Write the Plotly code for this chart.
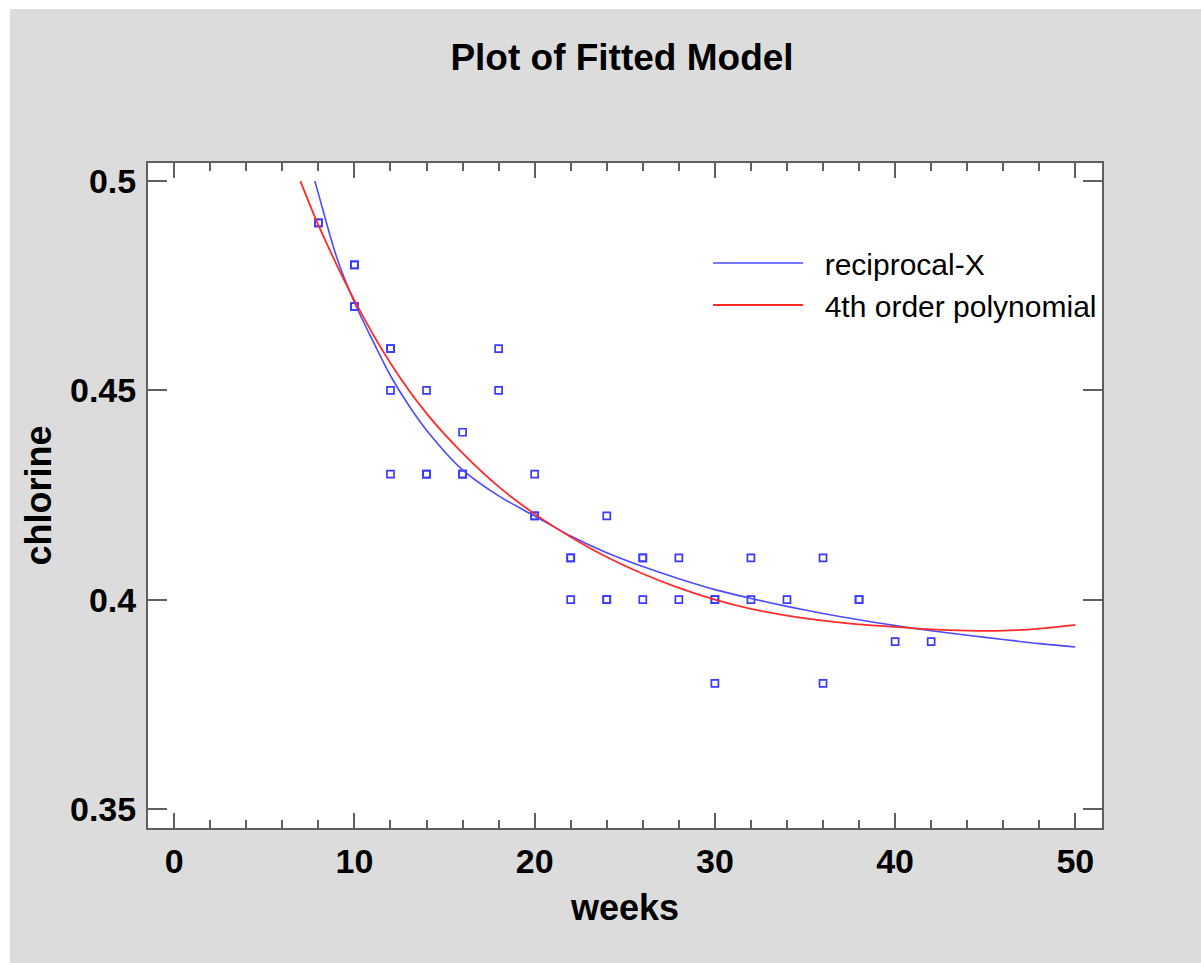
import plotly.graph_objects as go

# observed data: weeks vs chlorine
weeks = [8, 8, 10, 10, 10, 10, 12, 12, 12, 12, 14, 14, 14, 16, 16, 16, 18, 18,
         20, 20, 20, 22, 22, 22, 24, 24, 24, 26, 26, 26, 28, 28, 30, 30, 30,
         32, 32, 34, 36, 36, 38, 38, 40, 42]
chlorine = [0.49, 0.49, 0.48, 0.47, 0.48, 0.47, 0.46, 0.46, 0.45, 0.43, 0.45, 0.43, 0.43,
            0.44, 0.43, 0.43, 0.46, 0.45, 0.42, 0.42, 0.43, 0.41, 0.41, 0.40, 0.42, 0.40,
            0.40, 0.41, 0.40, 0.41, 0.41, 0.40, 0.40, 0.40, 0.38, 0.41, 0.40, 0.40, 0.41,
            0.38, 0.40, 0.40, 0.39, 0.39]

# reciprocal-X fitted curve
recip_x = [7.8, 8, 9, 10, 11, 12, 13, 14, 16, 18, 20, 22, 24, 26, 28, 30, 32, 34, 36,
           38, 40, 42, 44, 46, 48, 50]
recip_y = [0.500, 0.497, 0.482, 0.471, 0.462, 0.4535, 0.4465, 0.4405, 0.4310, 0.4248, 0.4200,
           0.4152, 0.4112, 0.4079, 0.4050, 0.4024, 0.4003, 0.3984, 0.3967, 0.3952, 0.3938,
           0.3926, 0.3915, 0.3905, 0.3895, 0.3887]

# 4th order polynomial fitted curve
poly_x = [7, 8, 10, 12, 14, 16, 18, 20, 22, 24, 26, 28, 30, 32, 34, 36, 38, 40, 42, 44,
          46, 48, 50]
poly_y = [0.500, 0.4895, 0.4715, 0.4565, 0.4445, 0.4350, 0.4270, 0.4205, 0.4150, 0.4102,
          0.4062, 0.4028, 0.4000, 0.3978, 0.3962, 0.3950, 0.3941, 0.3935, 0.3929, 0.3926,
          0.3926, 0.3931, 0.3940]

x_ticks = [0, 10, 20, 30, 40, 50]
y_ticks = [0.35, 0.4, 0.45, 0.5]
y_tick_text = ["0.35", "0.4", "0.45", "0.5"]
series_names = ["reciprocal-X", "4th order polynomial"]

BLUE = "#4B4BFF"
RED = "#FF2A2A"
AXIS = "#5F5F5F"
BG = "#DCDCDC"
FONT = "Liberation Sans, Arial, sans-serif"
PAD = "\u00a0\u00a0"

fig = go.Figure()
fig.add_trace(go.Scatter(
    x=weeks, y=chlorine, mode="markers", showlegend=False,
    marker=dict(symbol="square-open", size=7, color="#3A3AFF", line=dict(width=1.7)),
))
fig.add_trace(go.Scatter(
    x=recip_x, y=recip_y, mode="lines", name=PAD + series_names[0],
    line=dict(color=BLUE, width=1.6, shape="spline", smoothing=0.8),
))
fig.add_trace(go.Scatter(
    x=poly_x, y=poly_y, mode="lines", name=PAD + series_names[1],
    line=dict(color=RED, width=1.8, shape="spline", smoothing=0.8),
))

W, H = 1201, 963
L, R, T, B = 148, 99, 163, 135
pw = W - L - R
ph = H - T - B

def px_x(p):
    return (p - L) / pw

def px_y(p):
    return (H - B - p) / ph

fig.update_layout(
    width=W, height=H,
    margin=dict(l=L, r=R, t=T, b=B, pad=0),
    paper_bgcolor=BG, plot_bgcolor="white",
    font=dict(family=FONT, color="black"),
    title=dict(text="<b>Plot of Fitted Model</b>", x=px_x(622), xanchor="center",
               xref="paper", y=1 - 57 / H, yanchor="middle", yref="container",
               font=dict(size=37, family=FONT, color="black")),
    xaxis=dict(
        range=[-1.455, 51.48], tickvals=x_ticks, ticktext=[str(v) for v in x_ticks],
        ticks="inside", ticklen=15, tickwidth=2, tickcolor=AXIS,
        showline=True, linecolor=AXIS, linewidth=2, mirror="ticks",
        showgrid=False, zeroline=False,
        tickfont=dict(size=34, family=FONT, color="black", weight="bold"),
        ticklabelstandoff=2,
        minor=dict(dtick=2, tick0=0, ticks="inside", ticklen=8, tickwidth=2,
                   tickcolor=AXIS, showgrid=False),
        title=dict(text="<b>weeks</b>", standoff=16,
                   font=dict(size=36, family=FONT, color="black")),
    ),
    yaxis=dict(
        range=[0.34546, 0.50432], tickvals=y_ticks, ticktext=y_tick_text,
        ticks="inside", ticklen=19, tickwidth=2, tickcolor=AXIS,
        showline=True, linecolor=AXIS, linewidth=2, mirror="ticks",
        showgrid=False, zeroline=False,
        tickfont=dict(size=34, family=FONT, color="black", weight="bold"),
        ticklabelstandoff=3,
        title=dict(text="<b>chlorine</b>", standoff=7,
                   font=dict(size=36, family=FONT, color="black")),
    ),
    legend=dict(
        x=px_x(708), xanchor="left", y=px_y(237), yanchor="top",
        bgcolor="rgba(0,0,0,0)", borderwidth=0,
        font=dict(size=30, family=FONT, color="black"),
        itemwidth=90, tracegroupgap=0,
    ),
    shapes=[
        dict(type="rect", xref="paper", yref="paper", layer="below",
             x0=px_x(-5), x1=px_x(W + 5), y0=px_y(9), y1=px_y(-5),
             fillcolor="white", line=dict(width=0)),
        dict(type="rect", xref="paper", yref="paper", layer="below",
             x0=px_x(-5), x1=px_x(10), y0=px_y(H + 5), y1=px_y(-5),
             fillcolor="white", line=dict(width=0)),
    ],
)

fig.write_html("out.html")
